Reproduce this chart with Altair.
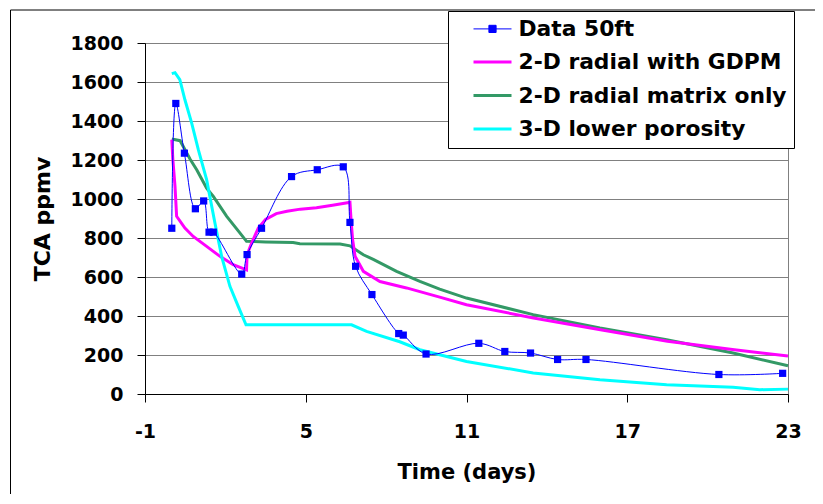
import altair as alt
import pandas as pd

FONT = "DejaVu Sans"

series_names = ["Data 50ft", "2-D radial with GDPM", "2-D radial matrix only", "3-D lower porosity"]
series_colors = ["#0000FF", "#FF00FF", "#339966", "#00FFFF"]
series_widths = [1, 3, 3, 3]

# Data 50ft (measured)
data_t = [0.0, 0.15, 0.47, 0.88, 1.19, 1.39, 1.55, 2.61, 2.81, 3.35, 4.47, 5.43, 6.40, 6.65,
          6.86, 7.47, 8.47, 8.64, 9.49, 11.46, 12.43, 13.39, 14.40, 15.46, 20.42, 22.80]
data_v = [850, 1490, 1235, 950, 990, 830, 830, 615, 715, 850, 1115, 1150, 1165, 880,
          655, 510, 310, 302, 205, 260, 218, 210, 177, 177, 100, 106]

# 2-D radial with GDPM
gdpm_t = [0.0, 0.04, 0.12, 0.18, 0.49, 0.80, 1.30, 1.80, 2.29, 2.79, 2.81, 2.98, 3.23, 3.5, 3.9,
          4.3, 4.8, 5.4, 6.0, 6.5, 6.65, 6.69, 6.75, 6.84, 7.15, 7.77, 8.76, 10.0, 11.0, 13.5,
          16.0, 18.5, 21.0, 23.0]
gdpm_v = [1304, 1202, 1065, 911, 851, 808, 757, 706, 663, 637, 714, 774, 851, 895, 925,
          937, 948, 955, 968, 980, 983, 894, 791, 706, 629, 577, 544, 497, 458, 390,
          330, 270, 227, 195]

# 2-D radial matrix only
matrix_t = [0.0, 0.31, 0.68, 0.93, 1.30, 1.55, 2.05, 2.54, 2.79, 3.5, 4.53, 4.78, 6.28, 6.65,
            7.15, 7.52, 8.39, 9.26, 10.0, 11.0, 13.49, 15.98, 18.47, 20.95, 23.0]
matrix_v = [1308, 1299, 1205, 1150, 1056, 1013, 911, 826, 783, 780, 777, 771, 769, 760,
            714, 690, 629, 577, 538, 492, 407, 338, 278, 210, 145]

# 3-D lower porosity
lowpor_t = [0.0, 0.12, 0.3, 0.49, 0.74, 0.99, 1.30, 1.61, 1.86, 2.17, 2.48, 2.77, 6.71, 7.27,
            8.51, 9.26, 10.0, 11.0, 13.49, 15.98, 18.47, 20.95, 21.95, 23.0]
lowpor_v = [1643, 1648, 1612, 1509, 1390, 1253, 1099, 877, 706, 552, 449, 355, 355, 321,
            268, 227, 201, 167, 108, 73, 48, 34, 22, 25]

x_ticks = [-1, 5, 11, 17, 23]
y_ticks = [0, 200, 400, 600, 800, 1000, 1200, 1400, 1600, 1800]

# legend symbol paths (line, and line with square marker for the measured data)
line_path = "M-1.9,0H1.9"
data_path = "M-1.9,0H1.9M-0.36,-0.36H0.36V0.36H-0.36Z"
shape_paths = [data_path, line_path, line_path, line_path]

data_df = pd.DataFrame({"t": data_t, "v": data_v})
gdpm_df = pd.DataFrame({"t": gdpm_t, "v": gdpm_v})
matrix_df = pd.DataFrame({"t": matrix_t, "v": matrix_v})
lowpor_df = pd.DataFrame({"t": lowpor_t, "v": lowpor_v})
legend_df = pd.DataFrame({"series": series_names, "t": [0.0] * 4, "v": [0.0] * 4})

x_axis = alt.Axis(values=x_ticks, title="Time (days)", grid=False,
                  tickSize=8, labelPadding=20, titlePadding=20,
                  labelFlush=False, labelOverlap=False,
                  labelExpr="'' + datum.value")
y_axis = alt.Axis(values=y_ticks, title="TCA ppmv", grid=True, tickCount=10,
                  tickSize=8, labelPadding=14, titlePadding=16,
                  labelFlush=False, labelOverlap=False, titleFontSize=22,
                  labelExpr="'' + datum.value")
x_scale = alt.Scale(domain=[x_ticks[0], x_ticks[-1]], nice=False, zero=False)
y_scale = alt.Scale(domain=[y_ticks[0], y_ticks[-1]], nice=False)


def xy():
    return dict(x=alt.X("t:Q", scale=x_scale, axis=x_axis),
                y=alt.Y("v:Q", scale=y_scale, axis=y_axis))


def model_layer(df, color):
    return alt.Chart(df).mark_line(strokeWidth=3, color=color).encode(**xy())


matrix_line = model_layer(matrix_df, series_colors[2])
gdpm_line = model_layer(gdpm_df, series_colors[1])
lowpor_line = model_layer(lowpor_df, series_colors[3])

data_line = alt.Chart(data_df).mark_line(strokeWidth=1, interpolate="catmull-rom",
                                          color=series_colors[0]).encode(**xy())
data_pts = alt.Chart(data_df).mark_square(size=52, opacity=1,
                                          color=series_colors[0]).encode(**xy())

legend = alt.Legend(
    title=None, orient="none", legendX=303, legendY=-32,
    fillColor="white", strokeColor="black", padding=7,
    labelFont=FONT, labelFontWeight="bold", labelFontSize=21.8, labelColor="black",
    symbolSize=400, symbolOffset=26, labelOffset=14.5, rowPadding=9.5, labelLimit=500,
    symbolOpacity=1,
)

legend_layer = alt.Chart(legend_df).transform_filter("false").mark_point(
    filled=True, size=400).encode(
    **xy(),
    color=alt.Color("series:N", scale=alt.Scale(domain=series_names, range=series_colors),
                    legend=legend, sort=None),
    stroke=alt.Stroke("series:N", scale=alt.Scale(domain=series_names, range=series_colors),
                      legend=legend, sort=None),
    shape=alt.Shape("series:N", scale=alt.Scale(domain=series_names, range=shape_paths),
                    legend=legend, sort=None),
    strokeWidth=alt.StrokeWidth("series:N",
                                scale=alt.Scale(type="ordinal", domain=series_names,
                                                range=series_widths),
                                legend=legend, sort=None),
)

frame_df = pd.DataFrame({"k": [0]})
frame_top = alt.Chart(frame_df).mark_rule(color="black", strokeWidth=1).encode(
    x=alt.value(-134.5), x2=alt.value(700), y=alt.value(-33))
frame_left = alt.Chart(frame_df).mark_rule(color="black", strokeWidth=1).encode(
    x=alt.value(-134.5), y=alt.value(-33), y2=alt.value(470))

chart = alt.layer(frame_top, frame_left, matrix_line, gdpm_line, lowpor_line,
                  data_line, data_pts, legend_layer).properties(
    width=643, height=351,
    autosize=alt.AutoSizeParams(type="none"),
    padding={"left": 137, "top": 35, "right": 27, "bottom": 100},
    background="white",
).configure_view(
    stroke="#808080", strokeWidth=1
).configure_axis(
    labelFont=FONT, labelFontSize=19, labelFontWeight="bold", labelColor="black",
    titleFont=FONT, titleFontSize=21, titleFontWeight="bold", titleColor="black",
    domainColor="black", tickColor="black", gridColor="#808080", gridWidth=1,
    domainWidth=1, tickWidth=1,
).configure_axisY(labelBaseline="middle")

chart.save("out.html", embed_options={"renderer": "svg", "actions": False})
